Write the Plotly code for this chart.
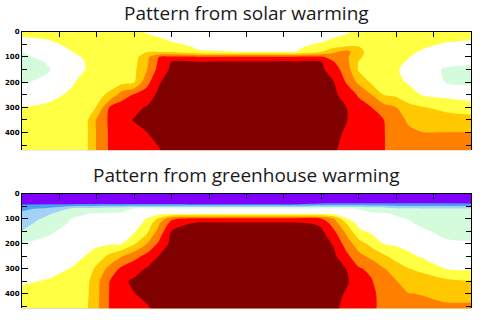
import numpy as np
import plotly.graph_objects as go

# latitude columns (deg) and depth rows
lat = [-90, -80, -70, -65, -60, -55, -50, -45, -40, -35, -30, -20, -10, 0,
       10, 20, 30, 35, 40, 45, 50, 55, 60, 65, 70, 80, 90]
depth = [0, 20, 40, 60, 80, 100, 120, 150, 200, 250, 300, 350, 400, 470]

# warming-pattern values, one profile (top -> bottom) per latitude column
solar_cols = [
    [1.4, 1.02, 0.68, 0.34, -0.01, -0.18, -0.37, -0.55, -0.09, 0.47, 1.02, 1.26, 1.5, 1.6],
    [1.3, 1.11, 0.91, 0.70, 0.48, 0.27, 0.05, -0.1, 0.2, 0.81, 1.1, 1.2, 1.25, 1.3],
    [1.5, 1.37, 1.24, 1.12, 0.99, 0.88, 0.77, 0.6, 0.93, 1.1, 1.15, 1.2, 1.2, 1.25],
    [1.5, 1.4, 1.3, 1.2, 1.1, 1.05, 0.99, 0.97, 1.2, 1.35, 1.45, 1.5, 1.55, 1.6],
    [1.5, 1.45, 1.4, 1.35, 1.32, 1.28, 1.25, 1.3, 1.5, 1.75, 2.05, 3.15, 3.1, 3.1],
    [1.5, 1.5, 1.5, 1.5, 1.5, 1.5, 1.52, 1.55, 1.6, 2.15, 4.02, 4.15, 4.12, 4.1],
    [1.5, 1.5, 1.5, 1.5, 1.52, 1.55, 1.57, 1.6, 1.7, 3.5, 4.5, 4.8, 4.7, 4.6],
    [1.2, 1.3, 1.4, 1.45, 1.5, 1.6, 1.7, 1.8, 1.95, 4.1, 4.8, 5.04, 4.8, 4.7],
    [0.9, 1.18, 1.44, 1.69, 1.95, 2.7, 2.8, 2.95, 3.68, 4.43, 5.06, 5.25, 4.99, 4.75],
    [0.6, 0.96, 1.29, 1.61, 1.94, 4.02, 4.2, 4.4, 4.9, 5.25, 5.5, 5.45, 5.3, 4.95],
    [0.4, 0.69, 0.99, 1.42, 1.87, 4.13, 5.02, 5.2, 5.6, 5.7, 5.7, 5.7, 5.6, 5.4],
    [0.2, 0.43, 0.66, 0.9, 1.1, 4.1, 5.05, 5.3, 5.8, 5.9, 5.9, 5.9, 5.8, 5.6],
    [0.1, 0.3, 0.5, 0.7, 1.05, 4.1, 5.1, 5.4, 5.9, 6.0, 6.0, 6.0, 5.9, 5.7],
    [0.1, 0.3, 0.5, 0.7, 0.98, 4.1, 5.1, 5.4, 5.9, 6.0, 6.0, 6.0, 5.9, 5.7],
    [0.1, 0.3, 0.5, 0.7, 0.98, 4.1, 5.1, 5.4, 5.9, 6.0, 6.0, 6.0, 5.9, 5.7],
    [0.2, 0.4, 0.6, 0.8, 1.02, 4.1, 5.1, 5.4, 5.9, 6.0, 6.0, 6.0, 5.9, 5.7],
    [0.4, 0.67, 0.95, 1.43, 1.97, 4.1, 5.02, 5.2, 5.5, 5.6, 5.65, 5.65, 5.5, 5.3],
    [0.6, 0.91, 1.32, 1.77, 2.83, 3.5, 4.03, 4.44, 5.03, 5.25, 5.4, 5.4, 5.3, 5.15],
    [0.8, 1.23, 1.6, 2.05, 3.3, 3.18, 3.3, 3.54, 3.94, 4.48, 5.02, 5.07, 4.86, 4.6],
    [1.3, 1.53, 1.77, 2.02, 2.45, 2.25, 1.95, 1.87, 2.75, 3.9, 4.3, 4.4, 4.35, 4.3],
    [1.4, 1.4, 1.4, 1.4, 1.4, 1.4, 1.45, 1.5, 1.85, 3.03, 4.02, 4.25, 4.25, 4.2],
    [1.5, 1.5, 1.45, 1.42, 1.4, 1.35, 1.32, 1.35, 1.6, 1.97, 3.42, 4.02, 4.05, 4.05],
    [1.5, 1.45, 1.4, 1.35, 1.3, 1.23, 1.16, 1.07, 1.26, 1.77, 3.02, 3.25, 3.5, 3.6],
    [1.5, 1.41, 1.31, 1.22, 1.13, 1.03, 0.93, 0.78, 0.89, 1.48, 2.24, 2.91, 3.11, 3.3],
    [1.4, 1.29, 1.18, 1.08, 0.95, 0.8, 0.65, 0.42, 0.58, 0.99, 2.07, 2.59, 3.03, 3.2],
    [1.3, 1.16, 1.03, 0.85, 0.66, 0.47, 0.28, -0.1, -0.05, 0.71, 1.72, 2.44, 3.01, 3.2],
    [1.3, 1.12, 0.94, 0.73, 0.53, 0.33, 0.12, -0.17, -0.16, 0.51, 1.46, 2.37, 3.01, 3.3],
]

ghg_cols = [
    [-4.5, -3.83, -3.17, -2.21, -1.81, -1.58, -1.35, -0.98, 0.02, 0.30, 0.62, 0.93, 1.14, 1.4],
    [-4.5, -3.82, -3.14, -1.83, -1.17, -0.81, -0.55, -0.16, 0.21, 0.5, 0.78, 1.04, 1.23, 1.5],
    [-4.5, -3.8, -3.3, -0.9, -0.41, 0.02, 0.13, 0.27, 0.51, 0.77, 1.03, 1.16, 1.3, 1.5],
    [-4.5, -3.8, -3.25, -0.75, -0.04, 0.11, 0.23, 0.41, 0.7, 0.99, 1.25, 1.5, 1.6, 1.7],
    [-4.5, -3.8, -3.25, -0.6, 0.04, 0.17, 0.29, 0.48, 0.8, 1.43, 2.23, 2.7, 2.75, 2.8],
    [-4.5, -3.8, -3.25, -0.45, 0.09, 0.22, 0.35, 0.56, 0.89, 2.22, 3.3, 3.98, 4.02, 4.05],
    [-4.5, -3.8, -3.25, -0.3, 0.12, 0.27, 0.41, 0.63, 0.99, 2.93, 4.23, 4.83, 4.73, 4.6],
    [-4.5, -3.8, -3.25, 0.02, 0.2, 0.39, 0.58, 0.87, 1.86, 3.66, 4.65, 5.15, 4.98, 4.7],
    [-4.5, -3.8, -3.25, 0.05, 0.52, 1.01, 1.29, 1.71, 2.98, 4.29, 5.07, 5.35, 5.2, 4.85],
    [-4.5, -3.8, -3.25, 0.07, 0.73, 2.19, 2.93, 3.41, 4.2, 5.05, 5.3, 5.5, 5.4, 5.2],
    [-4.5, -3.8, -3.25, 0.08, 0.85, 3.83, 4.39, 5.02, 5.3, 5.6, 5.7, 5.7, 5.6, 5.4],
    [-5.0, -4.2, -3.4, 0.1, 0.85, 4.3, 5.2, 5.5, 5.9, 6.0, 6.0, 6.0, 5.9, 5.7],
    [-5.0, -4.2, -3.4, 0.1, 0.98, 4.3, 5.2, 5.5, 5.9, 6.0, 6.0, 6.0, 5.9, 5.7],
    [-5.0, -4.2, -3.4, 0.1, 0.98, 4.3, 5.2, 5.5, 5.9, 6.0, 6.0, 6.0, 5.9, 5.7],
    [-5.0, -4.2, -3.4, 0.1, 0.98, 4.3, 5.2, 5.5, 5.9, 6.0, 6.0, 6.0, 5.9, 5.7],
    [-5.0, -4.2, -3.4, 0.1, 0.98, 4.3, 5.2, 5.5, 5.9, 6.0, 6.0, 6.0, 5.9, 5.7],
    [-5.0, -4.0, -2.95, 0.1, 0.95, 4.02, 4.85, 5.15, 5.4, 5.6, 5.7, 5.7, 5.6, 5.4],
    [-5.0, -4.0, -2.95, 0.1, 0.74, 3.02, 3.5, 4.15, 4.9, 5.2, 5.4, 5.4, 5.3, 5.2],
    [-5.0, -4.0, -2.95, 0.1, 0.56, 1.05, 2.02, 2.73, 3.56, 4.27, 4.99, 5.15, 4.91, 4.6],
    [-5.0, -4.0, -2.95, -0.05, 0.22, 0.46, 0.7, 1.19, 2.44, 3.31, 4.11, 4.4, 4.35, 4.3],
    [-5.0, -4.0, -2.95, -0.3, 0.12, 0.3, 0.48, 0.8, 1.7, 2.75, 3.78, 4.09, 4.2, 4.15],
    [-5.0, -4.0, -2.95, -0.4, 0.08, 0.23, 0.38, 0.6, 0.98, 2.17, 3.07, 3.38, 3.7, 3.8],
    [-5.0, -4.0, -2.95, -0.9, -0.1, 0.11, 0.26, 0.48, 0.85, 1.58, 2.55, 3.05, 3.15, 3.3],
    [-5.0, -4.0, -2.95, -0.89, -0.47, -0.04, 0.13, 0.35, 0.71, 1.18, 2.03, 2.57, 3.02, 3.2],
    [-5.0, -4.0, -2.95, -0.94, -0.68, -0.42, -0.16, 0.14, 0.52, 0.9, 1.8, 2.44, 2.98, 3.2],
    [-5.0, -4.0, -2.95, -0.96, -0.8, -0.65, -0.49, -0.25, 0.15, 0.56, 0.97, 2.22, 2.85, 3.15],
    [-5.0, -4.0, -2.98, -0.96, -0.81, -0.67, -0.52, -0.3, 0.08, 0.46, 0.84, 2.03, 2.7, 3.3],
]

panel_titles = ["Pattern from solar warming", "Pattern from greenhouse warming"]
depth_ticks = [0, 100, 200, 300, 400]
lat_ticks = [-75, -60, -45, -30, -15, 0, 15, 30, 45, 60, 75]

# contour bands (coldest -> warmest)
band_colors = ["#7f00ff", "#4a9ff2", "#a2d2f6", "#d4fcdc", "#ffffff",
               "#ffff44", "#ffc800", "#ff8000", "#ff0000", "#800000"]
n_lv = len(band_colors) - 1
colorscale = [[i / n_lv, c] for i, c in enumerate(band_colors)]

W, H = 488, 320
x_dom = [22 / W, 471 / W]
panels = [
    dict(cols=solar_cols, top=28, bottom=148, ymax=470),
    dict(cols=ghg_cols, top=192, bottom=308, ymax=458),
]

fig = go.Figure()
for i, p in enumerate(panels):
    z = np.array(p["cols"]).T
    sfx = "" if i == 0 else "2"
    fig.add_trace(go.Contour(
        x=lat, y=depth, z=z,
        xaxis="x" + sfx, yaxis="y" + sfx,
        autocontour=False,
        contours=dict(start=-3, end=5, size=1, coloring="fill", showlines=False),
        colorscale=colorscale, showscale=False,
        line=dict(width=0, smoothing=0.8),
        hoverinfo="skip",
    ))
    ax = dict(domain=x_dom, range=[-90, 90], side="top", showline=True,
              linecolor="black", linewidth=1, ticks="inside", ticklen=5,
              tickcolor="black", tickvals=lat_ticks, showticklabels=False,
              showgrid=False, zeroline=False, anchor="y" + sfx)
    ay = dict(domain=[1 - p["bottom"] / H, 1 - p["top"] / H],
              range=[p["ymax"], 0], showline=True, linecolor="black",
              linewidth=1, mirror="ticks", ticks="inside", ticklen=6,
              tickcolor="black", tickvals=depth_ticks,
              minor=dict(dtick=50, tick0=0, ticks="inside", ticklen=5,
                         tickcolor="black"),
              tickfont=dict(family="DejaVu Sans", size=7, color="black",
                            weight="bold"),
              showgrid=False, zeroline=False, anchor="x" + sfx)
    fig.layout["xaxis" + sfx] = ax
    fig.layout["yaxis" + sfx] = ay
    fig.add_annotation(text=panel_titles[i], xref="paper", yref="paper",
                       x=(22 + 471) / 2 / W, y=1 - (p["top"] - 19) / H,
                       xanchor="center", yanchor="middle", showarrow=False,
                       font=dict(family="Open Sans", size=19, color="#1a1a1a"))

fig.update_layout(width=W, height=H, margin=dict(l=0, r=0, t=0, b=0),
                  paper_bgcolor="white", plot_bgcolor="white",
                  showlegend=False)
fig.write_html("out.html")
